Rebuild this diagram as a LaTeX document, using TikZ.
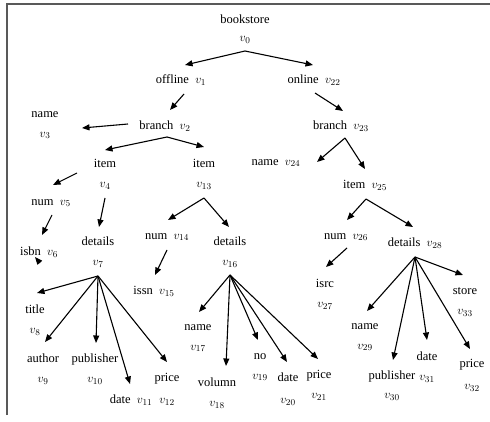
\documentclass[tikz,border=0pt]{standalone}
\usepackage{fontspec}
\setmainfont{Liberation Serif}
\usetikzlibrary{arrows.meta}
\begin{document}
\begin{tikzpicture}[x=1pt,y=-1pt,
  lbl/.style={inner sep=0pt,align=center,font=\fontsize{12.5}{20}\selectfont},
  arr/.style={line width=1.1pt,-{Triangle[length=7.5pt,width=6pt]}},
  frame/.style={line width=1.6pt,draw=black!65}]
\useasboundingbox (0,0) rectangle (490,422);
% frame lines
\draw[frame] (7,415) -- (7,4) -- (490,4);

% labels
\node[lbl] (t0)  at (245,29)  {bookstore\\[-2pt]$v_{0}$};
\node[lbl] (t1)  at (181,80)  {offline\ \ $v_{1}$};
\node[lbl] (t22) at (314,80)  {online\ \ $v_{22}$};
\node[lbl] (t2)  at (165,126) {branch\ \ $v_{2}$};
\node[lbl] (t23) at (341,126) {branch\ \ $v_{23}$};
\node[lbl] (t3)  at (45,125)  {name\\$v_{3}$};
\node[lbl] (t4)  at (105,174) {item\\$v_{4}$};
\node[lbl] (t13) at (204,174) {item\\$v_{13}$};
\node[lbl] (t5)  at (51,203)  {num\ \ $v_{5}$};
\node[lbl] (t7)  at (98,252)  {details\\$v_{7}$};
\node[lbl] (t6)  at (39,252)  {isbn\ \ $v_{6}$};
\node[lbl] (t14) at (167,237) {num\ \ $v_{14}$};
\node[lbl] (t16) at (230,252) {details\\$v_{16}$};
\node[lbl] (t15) at (154,291) {issn\ \ $v_{15}$};
\node[lbl] (t8)  at (35,320)  {title\\$v_{8}$};
\node[lbl] (t9)  at (43,369)  {author\\$v_{9}$};
\node[lbl] (t10) at (95,369)  {publisher\\$v_{10}$};
\node[lbl] (t11) at (131,400) {date\ \ $v_{11}$};
\node[lbl] (t12) at (167,389) {price\\[2pt]$v_{12}$};
\node[lbl] (t17) at (198,338) {name\\$v_{17}$};
\node[lbl] (t18) at (217,393) {volumn\\$v_{18}$};
\node[lbl] (t19) at (260,367) {no\\$v_{19}$};
\node[lbl] (t20) at (288,389) {date\\[2pt]$v_{20}$};
\node[lbl] (t21) at (319,385) {price\\$v_{21}$};
\node[lbl] (t24) at (276,163) {name\ \ $v_{24}$};
\node[lbl] (t25) at (365,185) {item\ \ $v_{25}$};
\node[lbl] (t26) at (346,237) {num\ \ $v_{26}$};
\node[lbl] (t28) at (415,243) {details\ \ $v_{28}$};
\node[lbl] (t27) at (325,294) {isrc\\$v_{27}$};
\node[lbl] (t33) at (465,302) {store\\$v_{33}$};
\node[lbl] (t29) at (365,337) {name\\$v_{29}$};
\node[lbl] (t30) at (392,386) {publisher\\[-1pt]$v_{30}$};
\node[lbl] (t31) at (427,367) {date\\$v_{31}$};
\node[lbl] (t32) at (472,375) {price\\[2pt]$v_{32}$};

% arrow end points
\coordinate (o0)  at (245,51);
\coordinate (i1)  at (185,65);
\coordinate (i22) at (313,65);
\coordinate (o1)  at (184,94);
\coordinate (i2)  at (170,110);
\coordinate (o22) at (315,93);
\coordinate (i23) at (343,111);
\coordinate (o2w) at (128,124);
\coordinate (i3)  at (82,128);
\coordinate (o2)  at (167,137);
\coordinate (i4)  at (105,150);
\coordinate (i13) at (204,147);
\coordinate (o4w) at (77,173);
\coordinate (i5)  at (53,185);
\coordinate (o4)  at (105,198);
\coordinate (i7)  at (99,227);
\coordinate (o5)  at (52,215);
\coordinate (i6)  at (42,235);
\coordinate (m6a) at (40,263);
\coordinate (m6b) at (35,257);
\coordinate (o13) at (204,198);
\coordinate (i14) at (168,220);
\coordinate (i16) at (229,227);
\coordinate (o14) at (167,250);
\coordinate (i15) at (155,275);
\coordinate (o23) at (345,138);
\coordinate (i24) at (317,162);
\coordinate (i25) at (365,169);
\coordinate (o25) at (366,199);
\coordinate (i26) at (347,220);
\coordinate (i28) at (413,227);
\coordinate (o26) at (347,248);
\coordinate (i27) at (326,267);
\coordinate (o7)  at (98,276);
\coordinate (i8)  at (37,293);
\coordinate (i9)  at (45,342);
\coordinate (i10) at (96,343);
\coordinate (i11) at (130,384);
\coordinate (i12) at (167,362);
\coordinate (o16) at (230,275);
\coordinate (i17) at (199,312);
\coordinate (i18) at (226,366);
\coordinate (i19) at (258,340);
\coordinate (i20) at (287,362);
\coordinate (i21) at (318,359);
\coordinate (o28) at (415,257);
\coordinate (i33) at (463,275);
\coordinate (i29) at (367,311);
\coordinate (i30) at (393,360);
\coordinate (i31) at (427,340);
\coordinate (i32) at (470,349);

% connectors
\foreach \a/\b in {o0/i1,o0/i22,o1/i2,o22/i23,o2w/i3,o2/i4,o2/i13,
  o4w/i5,o4/i7,o5/i6,m6a/m6b,o13/i14,o13/i16,o14/i15,
  o23/i24,o23/i25,o25/i26,o25/i28,o26/i27,
  o7/i8,o7/i9,o7/i10,o7/i11,o7/i12,
  o16/i17,o16/i18,o16/i19,o16/i20,o16/i21,
  o28/i33,o28/i29,o28/i30,o28/i31,o28/i32}
  \draw[arr] (\a) -- (\b);
\end{tikzpicture}
\end{document}
